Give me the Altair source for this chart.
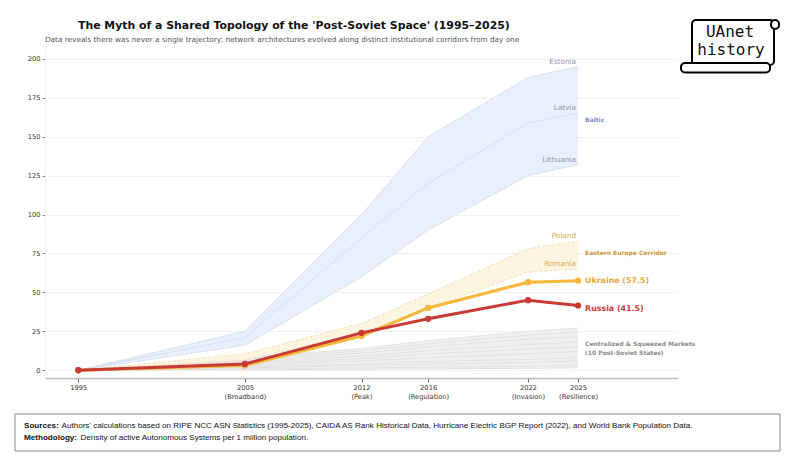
import altair as alt
import pandas as pd

# ---------------- data ----------------
years = [1995, 2005, 2012, 2016, 2022, 2025]
periods = ["", "(Broadband)", "(Peak)", "(Regulation)", "(Invasion)", "(Resilience)"]

estonia = [0, 25, 100, 150, 188, 195]
latvia = [0, 21, 85, 120, 159, 165]
lithuania = [0, 16, 60, 90, 125, 132]

poland = [0, 10.5, 30, 49, 78, 83]
romania = [0, 6.5, 24, 40, 63, 65]

ukraine = [0, 3, 22, 40, 56.5, 57.5]
russia = [0, 4, 24, 33, 45, 41.5]

belarus = [0, 8, 14, 19, 25, 27]
kazakhstan = [0, 7, 12.5, 17, 22.5, 24.5]
georgia = [0, 6, 11, 15, 20, 21.5]
armenia = [0, 5, 9, 12.5, 16.5, 18]
moldova = [0, 4, 7.5, 10.5, 13.5, 15]
azerbaijan = [0, 3, 6, 8, 10.5, 12]
kyrgyzstan = [0, 2, 4, 5.5, 7, 8]
uzbekistan = [0, 1.5, 3, 4, 5, 6]
tajikistan = [0, 0.8, 1.5, 2, 2.5, 3]
turkmenistan = [0, 0.3, 0.6, 0.9, 1.2, 1.5]

title_text = "The Myth of a Shared Topology of the 'Post-Soviet Space' (1995\u20132025)"
subtitle_text = ("Data reveals there was never a single trajectory: network architectures "
                 "evolved along distinct institutional corridors from day one")
sources_rest = ("Authors' calculations based on RIPE NCC ASN Statistics (1995-2025), CAIDA AS Rank "
                "Historical Data, Hurricane Electric BGP Report (2022), and World Bank Population Data.")
method_rest = "Density of active Autonomous Systems per 1 million population."

# ---------------- tables ----------------
baltic = {"Estonia": estonia, "Latvia": latvia, "Lithuania": lithuania}
eastern = {"Poland": poland, "Romania": romania}
squeezed = {"Belarus": belarus, "Kazakhstan": kazakhstan, "Georgia": georgia,
            "Armenia": armenia, "Moldova": moldova, "Azerbaijan": azerbaijan,
            "Kyrgyzstan": kyrgyzstan, "Uzbekistan": uzbekistan,
            "Tajikistan": tajikistan, "Turkmenistan": turkmenistan}

wide = pd.DataFrame({"year": years, "Estonia": estonia, "Lithuania": lithuania,
                     "Poland": poland, "Romania": romania,
                     "grey_top": [max(v) for v in zip(*squeezed.values())],
                     "grey_bottom": [min(v) for v in zip(*squeezed.values())]})


def long(d):
    rows = []
    for name, vals in d.items():
        for yr, v in zip(years, vals):
            rows.append({"country": name, "year": yr, "value": v})
    return pd.DataFrame(rows)


baltic_long = long(baltic)
eastern_long = long(eastern)
squeezed_long = long(squeezed)
ua_long = long({"Ukraine": ukraine})
ru_long = long({"Russia": russia})

# ---------------- encodings ----------------
label_expr = " : ".join(
    f"datum.value == {y} ? [{', '.join(repr(s) for s in ([str(y)] + ([p] if p else [])))}]"
    for y, p in zip(years, periods)) + " : ''"

X = alt.X("year:Q",
          scale=alt.Scale(domain=[1993, 2031], nice=False, zero=False),
          axis=alt.Axis(values=years, labelExpr=label_expr, title=None, grid=False,
                        labelFont="DejaVu Sans", labelFontSize=6.7, labelColor="#333333",
                        labelLineHeight=9, labelPadding=2, tickSize=4, tickColor="#666666",
                        domainColor="#bdbdbd", domainWidth=1.6))

YSCALE = alt.Scale(domain=[-5, 205], nice=False, zero=False)
YAXIS = alt.Axis(values=list(range(0, 201, 25)), title=None, grid=True, gridColor="#eeeeee",
                 gridWidth=0.8, labelFont="DejaVu Sans", labelFontSize=6.7,
                 labelColor="#333333", tickSize=3, tickColor="#888888", labelPadding=2,
                 domainColor="#f0f0f0")


def Y(field):
    return alt.Y(field, scale=YSCALE, axis=YAXIS)


# ---------------- layers ----------------
grey_band = alt.Chart(wide).mark_area(color="#eeeeee", opacity=0.9).encode(
    x=X, y=Y("grey_top:Q"), y2="grey_bottom:Q")
grey_lines = alt.Chart(squeezed_long).mark_line(color="#dedede", strokeWidth=0.8).encode(
    x=X, y=Y("value:Q"), detail="country:N")

baltic_band = alt.Chart(wide).mark_area(color="#e8eefb", opacity=0.95).encode(
    x=X, y=Y("Estonia:Q"), y2="Lithuania:Q")
baltic_lines = alt.Chart(baltic_long).mark_line(color="#d3dcf0", strokeWidth=0.8).encode(
    x=X, y=Y("value:Q"), detail="country:N")

eastern_band = alt.Chart(wide).mark_area(color="#fdf4de", opacity=0.95).encode(
    x=X, y=Y("Poland:Q"), y2="Romania:Q")
eastern_lines = alt.Chart(eastern_long).mark_line(
    color="#efd9a4", strokeWidth=0.8, strokeDash=[3, 2]).encode(
    x=X, y=Y("value:Q"), detail="country:N")

ua_line = alt.Chart(ua_long).mark_line(
    color="#f5b83d", strokeWidth=3,
    point=alt.OverlayMarkDef(filled=True, color="#f5b83d", size=40)).encode(
    x=X, y=Y("value:Q"))
ru_line = alt.Chart(ru_long).mark_line(
    color="#c83a34", strokeWidth=3,
    point=alt.OverlayMarkDef(filled=True, color="#c83a34", size=40)).encode(
    x=X, y=Y("value:Q"))

# end labels for countries
bl_lab = pd.DataFrame({"country": list(baltic.keys()), "year": years[-1],
                       "value": [v[-1] for v in baltic.values()]})
ee_lab = pd.DataFrame({"country": list(eastern.keys()), "year": years[-1],
                       "value": [v[-1] for v in eastern.values()]})
bl_text = alt.Chart(bl_lab).mark_text(
    align="right", baseline="bottom", dx=-2, dy=-1, font="DejaVu Sans", fontSize=7.3,
    color="#8f99ab").encode(x=X, y=Y("value:Q"), text="country:N")
ee_text = alt.Chart(ee_lab).mark_text(
    align="right", baseline="bottom", dx=-2, dy=-1, font="DejaVu Sans", fontSize=7.3,
    color="#d7aa4c").encode(x=X, y=Y("value:Q"), text="country:N")


def side_label(text, value, color, size):
    d = pd.DataFrame({"year": [years[-1]], "value": [value], "label": [text]})
    return alt.Chart(d).mark_text(
        align="left", baseline="middle", dx=7, font="DejaVu Sans", fontWeight="bold",
        fontSize=size, color=color).encode(x=X, y=Y("value:Q"), text="label:N")


baltic_mean = sum(v[-1] for v in baltic.values()) / len(baltic)
eastern_mean = sum(v[-1] for v in eastern.values()) / len(eastern)
squeezed_mid = sum(v[-1] for v in squeezed.values()) / len(squeezed)

side = [
    side_label("Baltic", baltic_mean - 3, "#7d8db4", 6),
    side_label("Eastern Europe Corridor", eastern_mean + 1, "#c99a35", 6),
    side_label(f"Ukraine ({ukraine[-1]})", ukraine[-1], "#e9a93a", 7.9),
    side_label(f"Russia ({russia[-1]})", russia[-1] - 2, "#c83a34", 7.9),
]
sq_d = pd.DataFrame({"year": [years[-1]], "value": [squeezed_mid + 3]})
sq_text = alt.Chart(sq_d).mark_text(
    align="left", baseline="middle", dx=7, font="DejaVu Sans", fontWeight="bold",
    fontSize=6, color="#8a8a8a", lineHeight=8.5,
    text=["Centralized & Squeezed Markets", "(10 Post-Soviet States)"]).encode(
    x=X, y=Y("value:Q"))

# ---------------- annotations outside plot ----------------
one = alt.Data(values=[{}])


def free_text(txt, x, y, **kw):
    return alt.Chart(one).mark_text(text=txt, **kw).encode(x=alt.value(x), y=alt.value(y))


def free_rect(x, x2, y, y2, **kw):
    return alt.Chart(one).mark_rect(**kw).encode(
        x=alt.value(x), x2=alt.value(x2), y=alt.value(y), y2=alt.value(y2))


title = free_text(title_text, 33, -25, align="left", baseline="middle", font="DejaVu Sans",
                  fontWeight="bold", fontSize=10.9, color="#111111")
subtitle = free_text(subtitle_text, 0, -11, align="left", baseline="middle",
                     font="DejaVu Sans", fontSize=7.3, color="#555555")

box = free_rect(-30, 735, 363, 400, fill="white", stroke="#8a8a8a", strokeWidth=1)
src_b = free_text("Sources:", -21, 375, align="left", baseline="middle",
                  font="Liberation Sans", fontWeight="bold", fontSize=8.1, color="#111111")
src_r = free_text(sources_rest, 16.5, 375, align="left", baseline="middle",
                  font="Liberation Sans", fontSize=8.1, color="#111111")
met_b = free_text("Methodology:", -21, 387, align="left", baseline="middle",
                  font="Liberation Sans", fontWeight="bold", fontSize=8.1, color="#111111")
met_r = free_text(method_rest, 35.5, 387, align="left", baseline="middle",
                  font="Liberation Sans", fontSize=8.1, color="#111111")

logo_body = free_rect(647, 729, -31, 14, fill="white", stroke="black", strokeWidth=2,
                      cornerRadius=4)
logo_curl = free_rect(726, 734, -31, -22, fill="white", stroke="black", strokeWidth=2,
                      cornerRadius=4)
logo_roll = free_rect(636, 725, 12, 21.5, fill="white", stroke="black", strokeWidth=2,
                      cornerRadius=4)
logo_t1 = free_text("UAnet", 685, -19, align="center", baseline="middle",
                    font="DejaVu Sans Mono", fontSize=16, color="#111111")
logo_t2 = free_text("history", 686, -1.5, align="center", baseline="middle",
                    font="DejaVu Sans Mono", fontSize=16, color="#111111")

chart = alt.layer(
    grey_band, grey_lines, baltic_band, baltic_lines, eastern_band, eastern_lines,
    ua_line, ru_line, bl_text, ee_text, *side, sq_text,
    title, subtitle, box, src_b, src_r, met_b, met_r,
    logo_body, logo_curl, logo_roll, logo_t1, logo_t2,
).properties(
    width=633, height=327,
    autosize=alt.AutoSizeParams(type="none"),
    padding={"left": 45, "top": 51, "right": 122, "bottom": 88},
    background="white",
).configure_view(stroke=None)

chart.save("out.html", embed_options={"renderer": "svg", "actions": False})
